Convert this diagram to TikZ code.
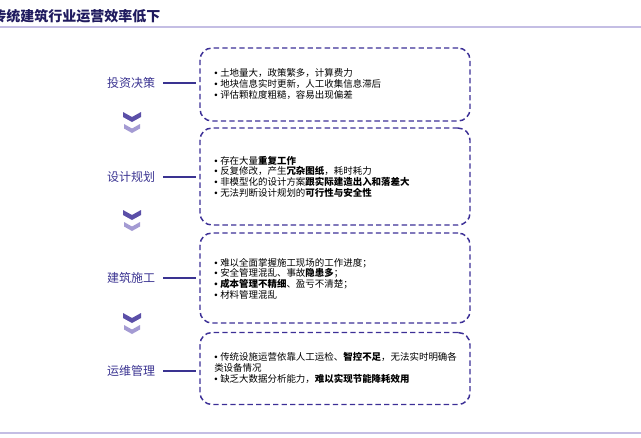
\documentclass[tikz,border=0pt]{standalone}
\usepackage{fontspec}
\setmainfont{Noto Sans CJK SC}
\newfontfamily\bulletfont{Liberation Sans}
\newcommand\bul{{\bulletfont •}\hspace{2pt}}
\usetikzlibrary{positioning,calc}
\definecolor{TitleColor}{RGB}{31,26,94}
\definecolor{StageColor}{RGB}{58,51,145}
\definecolor{BoxColor}{RGB}{60,47,150}
\definecolor{ChevDark}{RGB}{91,79,168}
\definecolor{ChevLight}{RGB}{164,155,211}
\definecolor{RuleColor}{RGB}{196,190,228}
\tikzset{
  stagebox/.style={draw=BoxColor, line width=1.1pt, dash pattern=on 4pt off 2.4pt,
    rounded corners=9pt, minimum width=202.5pt, inner sep=0pt},
  stagelabel/.style={font=\fontsize{9}{11}\selectfont, text=StageColor, inner sep=1pt},
  stageline/.style={draw=StageColor, line width=0.8pt},
  boxtext/.style={font=\fontsize{7.1}{8}\selectfont, align=left, anchor=west, inner sep=0pt},
}

\begin{document}
\begin{tikzpicture}[x=0.75pt, y=-0.75pt]
      \useasboundingbox (0,0) rectangle (641,437);
      % title and rules
      \node[anchor=west, inner sep=0pt, text=TitleColor, font=\fontsize{10.5}{12}\selectfont\bfseries] (title) at (-8,16) {传统建筑行业运营效率低下};
      \draw[RuleColor, line width=1.3pt] (0,27) -- (641,27);
      \draw[RuleColor, line width=1.3pt] (0,433) -- (641,433);

      \foreach \n/\yc/\h in {1/84.5/73,2/176.5/97,3/278/90,4/368.5/72} {
        \node[stagebox, minimum height=\h*0.75pt] (box\n) at (335,\yc) {};
      }
      \foreach \n/\y/\name in {1/83/投资决策,2/177/设计规划,3/278/建筑施工,4/371/运维管理} {
        \node[stagelabel] (lbl\n) at (131,\y) {\name};
        \draw[stageline] ([xshift=5pt]lbl\n.east) -- ([xshift=-2.5pt]box\n.west |- lbl\n.east);
      }

      % chevrons
      \foreach \y in {112,210,313} {
        \fill[ChevDark] (123,\y) -- (132,\y+5) -- (141,\y) -- (141,\y+5) -- (132,\y+10) -- (123,\y+5) -- cycle;
        \fill[ChevLight] (124,\y+12) -- (132,\y+16.5) -- (140,\y+12) -- (140,\y+16.5) -- (132,\y+21) -- (124,\y+16.5) -- cycle;
      }

      \node[boxtext] (txt1) at (214,84) {\bul 土地量大，政策繁多，计算费力\\
        \bul 地块信息实时更新，人工收集信息滞后\\
        \bul 评估颗粒度粗糙，容易出现偏差};
      \node[boxtext] (txt2) at (214,176.5) {\bul 存在大量\textbf{重复工作}\\
        \bul 反复修改，产生\textbf{冗杂图纸}，耗时耗力\\
        \bul 非模型化的设计方案\textbf{跟实际建造出入和落差大}\\
        \bul 无法判断设计规划的\textbf{可行性与安全性}};
      \node[boxtext] (txt3) at (214,278.5) {\bul 难以全面掌握施工现场的工作进度；\\
        \bul 安全管理混乱、事故\textbf{隐患多}；\\
        \textbf{\bul 成本管理不精细}、盈亏不清楚；\\
        \bul 材料管理混乱};
      \node[boxtext] (txt4) at (214,368) {\bul 传统设施运营依靠人工运检、\textbf{智控不足}，无法实时明确各\\
        类设备情况\\
        \bul 缺乏大数据分析能力，\textbf{难以实现节能降耗效用}};
\end{tikzpicture}
\end{document}
